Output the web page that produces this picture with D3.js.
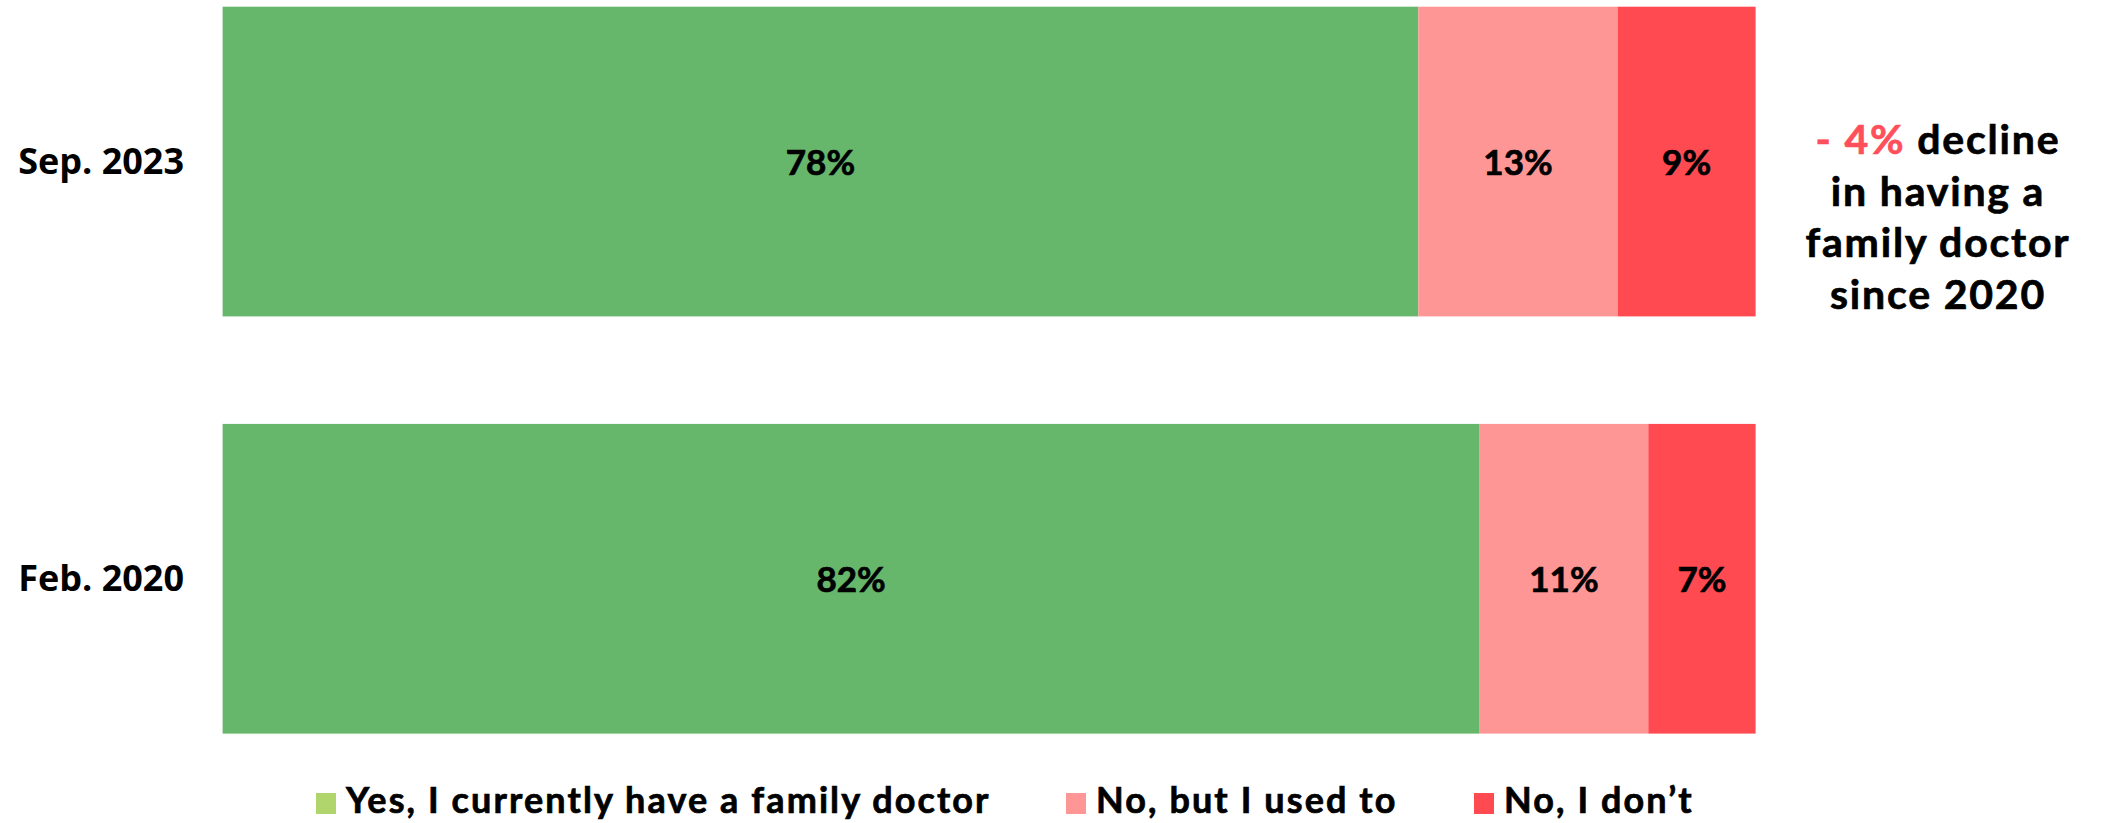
<!DOCTYPE html>
<html lang="en">
<head>
    <meta charset="UTF-8">
    <script src="https://d3js.org/d3.v7.min.js"></script>
    <title>Family doctor</title>
    <style>
        body { margin: 0; background: #fff; }
        svg text { font-family: "Lato", "Open Sans", sans-serif; font-weight: bold; fill: #000;
                   stroke: #000; stroke-width: 0.7px; }
        .cat-label { font-family: "Open Sans", "Noto Sans", sans-serif; stroke: none; }
    </style>
</head>
<body>
    <div id="chart"></div>

    <script type="text/javascript">
        // data
        const periods = ["Sep. 2023", "Feb. 2020"];
        const seriesNames = ["Yes, I currently have a family doctor", "No, but I used to", "No, I don’t"];
        const yesValues = [78, 82];
        const usedToValues = [13, 11];
        const noValues = [9, 7];
        const noteLines = ["decline", "in having a", "family doctor", "since 2020"];
        const noteHighlight = "- 4%";

        const width = 2103;
        const height = 823;
        const barColors = ["#66b76b", "#ff9696", "#ff4a52"];
        const legendColors = ["#b0d56c", "#ff9696", "#ff4a52"];

        const svg = d3.select("#chart")
            .append("svg")
            .attr("width", width)
            .attr("height", height);

        const x = d3.scaleLinear()
            .domain([0, 100])
            .range([222.6, 1755.6]);

        const y = d3.scaleBand()
            .domain(periods)
            .range([6.7, 733.6])
            .paddingInner(0.2577)
            .paddingOuter(0);

        const rows = periods.map((p, i) => ({ period: p, values: [yesValues[i], usedToValues[i], noValues[i]] }));
        const stacked = d3.stack()
            .keys([0, 1, 2])
            .value((d, k) => d.values[k])(rows);

        const layers = svg.selectAll(".layer")
            .data(stacked)
            .enter()
            .append("g")
            .attr("class", "layer")
            .attr("fill", (d, i) => barColors[i]);

        layers.selectAll("rect")
            .data(d => d)
            .enter()
            .append("rect")
            .attr("x", d => x(d[0]))
            .attr("y", d => y(d.data.period))
            .attr("width", d => x(d[1]) - x(d[0]))
            .attr("height", y.bandwidth());

        layers.selectAll("text")
            .data(d => d)
            .enter()
            .append("text")
            .attr("x", d => (x(d[0]) + x(d[1])) / 2)
            .attr("y", d => y(d.data.period) + y.bandwidth() / 2 + 13)
            .attr("text-anchor", "middle")
            .style("font-size", "35px")
            .text(d => `${d[1] - d[0]}%`);

        // category labels
        svg.selectAll(".cat-label")
            .data(periods)
            .enter()
            .append("text")
            .attr("class", "cat-label")
            .attr("x", 184)
            .attr("y", d => y(d) + y.bandwidth() / 2 + 12.5)
            .attr("text-anchor", "end")
            .style("font-size", "36px")
            .text(d => d);

        // annotation
        const note = svg.append("text")
            .attr("x", 1938)
            .attr("y", 154)
            .attr("text-anchor", "middle")
            .style("font-size", "41px")
            .style("letter-spacing", "1.8px");

        note.append("tspan")
            .style("fill", "#ff4f5a")
            .style("stroke", "#ff4f5a")
            .text(noteHighlight + " ");

        noteLines.forEach((line, i) => {
            note.append("tspan")
                .attr("x", i === 0 ? null : 1938)
                .attr("dy", i === 0 ? 0 : 51.5)
                .text(line);
        });

        // legend
        const legendX = [316, 1066, 1474];
        const legend = svg.selectAll(".legend-item")
            .data(seriesNames)
            .enter()
            .append("g")
            .attr("class", "legend-item")
            .attr("transform", (d, i) => `translate(${legendX[i]}, 813)`);

        legend.append("rect")
            .attr("x", 0)
            .attr("y", -20)
            .attr("width", 20)
            .attr("height", 21)
            .attr("fill", (d, i) => legendColors[i]);

        legend.append("text")
            .attr("x", 30)
            .attr("y", 0)
            .style("font-size", "36px")
            .style("letter-spacing", "2.1px")
            .text(d => d);
    </script>
</body>
</html>
